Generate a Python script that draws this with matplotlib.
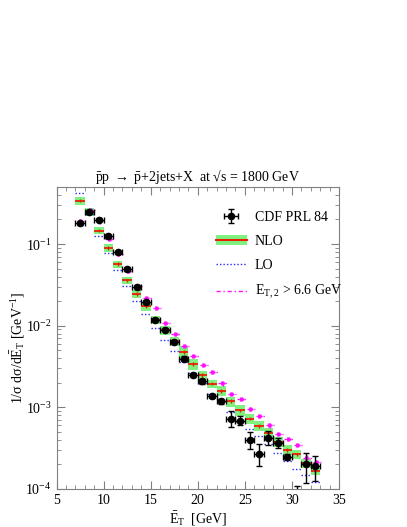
import numpy as np
import matplotlib
matplotlib.use('Agg')
import matplotlib.pyplot as plt
from matplotlib.ticker import LogLocator, MultipleLocator, NullFormatter
from matplotlib.patches import Patch
from matplotlib.lines import Line2D

plt.rcParams['font.family'] = ['Liberation Serif', 'DejaVu Serif']
plt.rcParams['mathtext.fontset'] = 'custom'
plt.rcParams['mathtext.rm'] = 'Liberation Serif'
plt.rcParams['mathtext.it'] = 'Liberation Serif:italic'
plt.rcParams['font.size'] = 10

# ── Data (bin centres, 1 GeV bins)
et_bins = [7.5, 8.5, 9.5, 10.5, 11.5, 12.5, 13.5, 14.5, 15.5, 16.5, 17.5, 18.5, 19.5,
           20.5, 21.5, 22.5, 23.5, 24.5, 25.5, 26.5, 27.5, 28.5, 29.5, 30.5, 31.5, 32.5]

cdf_val = [0.179, 0.249, 0.199, 0.126, 0.079, 0.0493, 0.0299, 0.0196, 0.0119, 0.00898,
           0.0064, 0.00396, 0.00249, 0.00208, 0.00138, 0.00119, 0.000723, 0.000687,
           0.000394, 0.000265, 0.00042, 0.000365, 0.000245, 0.000085, 0.000204, 0.000189]
cdf_rel_lo = [0.05, 0.05, 0.05, 0.05, 0.05, 0.05, 0.05, 0.05, 0.05, 0.05, 0.05, 0.06, 0.06,
              0.06, 0.06, 0.07, 0.20, 0.12, 0.22, 0.27, 0.18, 0.14, 0.08, 0.10, 0.42, 0.33]
cdf_rel_hi = [0.05, 0.05, 0.05, 0.05, 0.05, 0.05, 0.05, 0.05, 0.05, 0.05, 0.05, 0.06, 0.06,
              0.06, 0.06, 0.07, 0.25, 0.13, 0.28, 0.36, 0.22, 0.15, 0.08, 0.27, 0.36, 0.33]

nlo_val = [0.34, 0.249, 0.146, 0.090, 0.057, 0.036, 0.0244, 0.0173, 0.0119, 0.0088,
           0.0065, 0.0048, 0.0034, 0.0025, 0.00195, 0.00158, 0.00119, 0.00092,
           0.00073, 0.00059, 0.00048, 0.000375, 0.00030, 0.000265, 0.000207, 0.000165]
nlo_band = [0.12, 0.12, 0.10, 0.10, 0.10, 0.10, 0.11, 0.12, 0.12, 0.13, 0.13, 0.18, 0.15,
            0.13, 0.12, 0.14, 0.14, 0.15, 0.14, 0.14, 0.15, 0.14, 0.14, 0.12, 0.12, 0.10]

lo_val = [0.42, 0.232, 0.126, 0.0768, 0.048, 0.0308, 0.0201, 0.0138, 0.0095, 0.00676,
          0.00486, 0.0036, 0.0026, 0.0020, 0.00147, 0.00119, 0.00087, 0.00069,
          0.00054, 0.00044, 0.00036, 0.000275, 0.00022, 0.000178, 0.000150, 0.000121]

cut_val = [0.19, 0.26, 0.19, 0.115, 0.075, 0.047, 0.031, 0.0216, 0.0164, 0.0108,
           0.0079, 0.0057, 0.0043, 0.00334, 0.00272, 0.00196, 0.00147, 0.00128,
           0.00096, 0.00078, 0.00060, 0.00047, 0.00041, 0.000344, 0.000243, 0.000215]

x = np.array(et_bins)
cdf = np.array(cdf_val)
nlo = np.array(nlo_val)
band = np.array(nlo_band)
lo = np.array(lo_val)
cut = np.array(cut_val)

GREEN = '#80f080'
RED = '#e82000'
BLUE = '#2828ff'
MAG = '#ff10ff'
GRAY = '#808080'

fig = plt.figure(figsize=(4.07, 5.27), dpi=100)
ax = fig.add_axes([56.5/407, 1-489/527, (339-56.5)/407, (489-187)/527])

# NLO band + central line
ax.bar(x, nlo*(1+band) - nlo*(1-band), bottom=nlo*(1-band), width=1.0,
       color=GREEN, edgecolor='none', zorder=1)
ax.hlines(nlo, x-0.5, x+0.5, colors=RED, lw=1.3, zorder=2)
ax.errorbar(x, nlo, yerr=0.05*nlo, fmt='none', ecolor=RED, elinewidth=1.0, zorder=2)

# LO
ax.hlines(lo, x-0.5, x+0.5, colors=BLUE, lw=1.0, linestyles=(0, (1, 1.5)), zorder=3)

# E_T,2 > 6.6 GeV
ax.hlines(cut, x-0.3, x+0.6, colors=MAG, lw=1.0, linestyles=(0, (3, 2, 1, 2)), zorder=3)
ax.errorbar(x+0.15, cut, yerr=0.06*cut, fmt='>', ms=2.5, color=MAG,
            elinewidth=1.0, zorder=3)

# CDF data
cdf_eb = ax.errorbar(x, cdf, xerr=0.5,
                     yerr=[cdf*np.array(cdf_rel_lo), cdf*np.array(cdf_rel_hi)],
                     fmt='o', ms=4.5, color='black', ecolor='black', elinewidth=1.0,
                     capsize=2.5, capthick=1.0, zorder=5)

ax.set_yscale('log')
ax.set_xlim(5, 35)
ax.set_ylim(1e-4, 0.5)
ax.xaxis.set_major_locator(MultipleLocator(5))
ax.xaxis.set_minor_locator(MultipleLocator(1))
ax.yaxis.set_major_locator(LogLocator(base=10, numticks=10))
ax.yaxis.set_minor_locator(LogLocator(base=10, subs=np.arange(2, 10), numticks=20))
ax.yaxis.set_minor_formatter(NullFormatter())
ax.tick_params(which='both', direction='in', top=True, right=True, color=GRAY,
               labelsize=10)
ax.tick_params(which='major', length=6)
ax.tick_params(which='minor', length=3)
for s in ax.spines.values():
    s.set_color(GRAY)

ax.set_title(r'$\bar{\mathrm{p}}$p $\rightarrow$ $\bar{\mathrm{p}}$+2jets+X  at √s = 1800 GeV',
             fontsize=10, pad=4)
ax.set_xlabel(r'$\bar{\mathrm{E}}_{\mathrm{T}}$  [GeV]', fontsize=10, labelpad=2)
fig.text(18/407, 1-348/527, r'1/σ dσ/d$\bar{\mathrm{E}}_{\mathrm{T}}$ [GeV$^{-1}$]',
         rotation=90, ha='center', va='center', fontsize=10)

cdf_handle = Line2D([], [], color='black', marker='o', ms=4.5, lw=1.0,
                    markevery=[1])
handles = [
    cdf_eb,
    (Patch(facecolor=GREEN, edgecolor='none'), Line2D([], [], color=RED, lw=1.5)),
    Line2D([], [], color=BLUE, lw=1.0, linestyle=(0, (1, 1.5))),
    Line2D([], [], color=MAG, lw=1.0, linestyle=(0, (3, 2, 1, 2))),
]
labels = ['CDF PRL 84', 'NLO', 'LO', r'E$_{\mathrm{T,2}}$ > 6.6 GeV']
ax.legend(handles, labels, loc='upper left', bbox_to_anchor=(216/407, 1-211/527),
          bbox_transform=fig.transFigure, frameon=False, fontsize=10,
          handlelength=2.2, handletextpad=0.6, labelspacing=0.8,
          borderpad=0, borderaxespad=0)

plt.savefig('out.png', dpi=100)
plt.close()
